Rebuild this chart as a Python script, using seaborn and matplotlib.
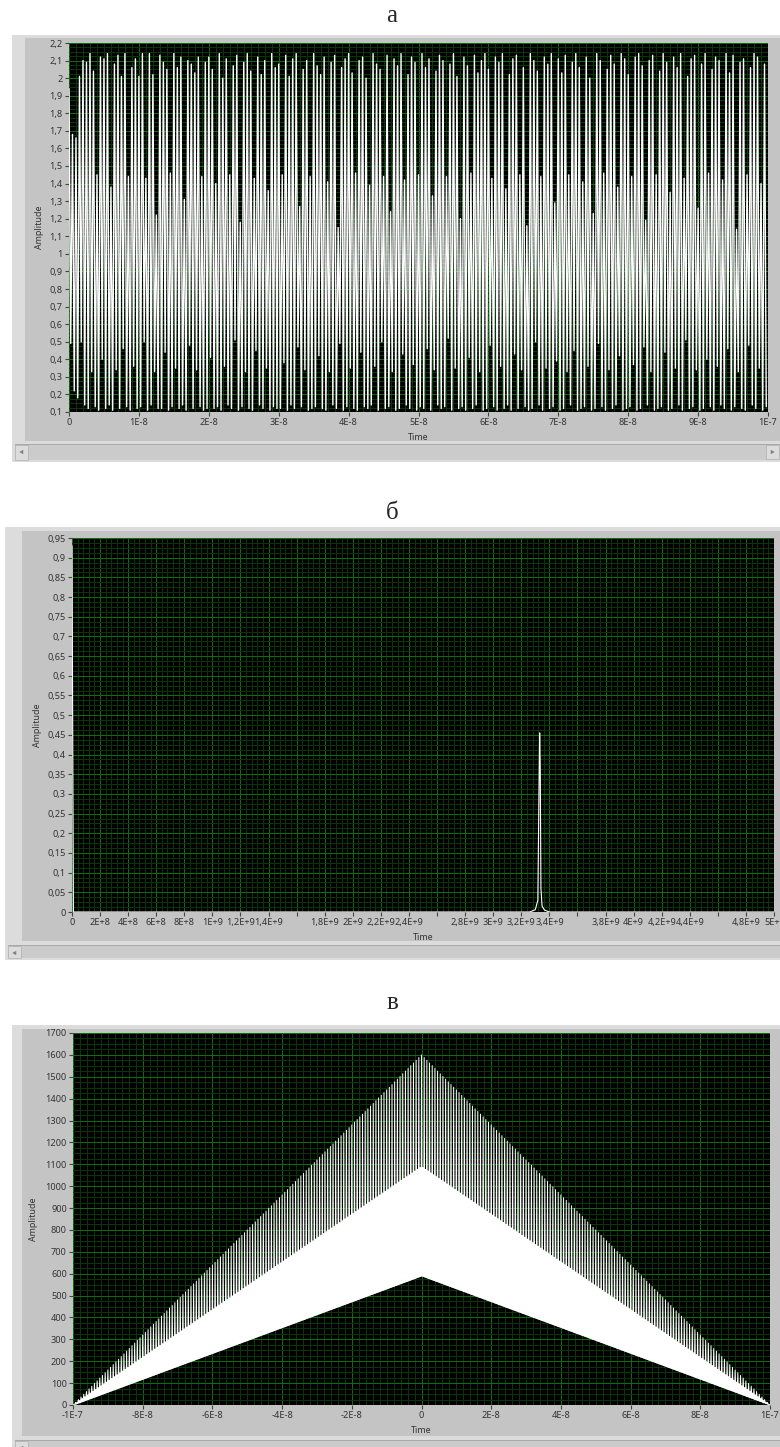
import numpy as np
import pandas as pd
import matplotlib
matplotlib.use("Agg")
import matplotlib.pyplot as plt
from matplotlib.patches import Rectangle, Polygon
from matplotlib.ticker import AutoMinorLocator
from matplotlib.transforms import ScaledTranslation
import seaborn as sns

# ---------------- data: panel а (time signal) ----------------
a_sample_step = 0.25e-9
a_high = [
    1.94, 1.68, 1.66, 2.01, 2.10, 2.09, 2.14, 2.04, 1.45, 2.12, 2.11, 2.14, 1.38, 2.08, 2.13, 2.01, 2.14, 1.44, 2.06, 2.11,
    2.01, 2.14, 1.43, 2.14, 2.02, 1.22, 2.13, 2.09, 2.05, 1.46, 2.14, 2.06, 2.12, 1.31, 2.10, 2.08, 2.03, 2.12, 1.44, 2.09,
    2.12, 2.05, 1.40, 2.14, 2.00, 2.11, 1.45, 2.07, 2.13, 1.18, 2.09, 2.14, 2.04, 1.43, 2.12, 2.02, 2.10, 1.36, 2.14, 2.06,
    2.08, 1.45, 2.13, 2.01, 2.11, 2.14, 1.27, 2.05, 2.10, 1.44, 2.14, 2.07, 2.02, 2.12, 1.41, 2.09, 2.13, 1.15, 2.06, 2.11,
    2.14, 2.03, 1.46, 2.10, 2.12, 2.00, 1.39, 2.14, 2.08, 2.05, 1.44, 2.13, 1.24, 2.11, 2.07, 2.14, 1.42, 2.02, 2.12, 2.09,
    1.45, 2.14, 2.06, 2.11, 1.33, 2.04, 2.13, 2.10, 1.44, 2.08, 2.14, 2.01, 1.20, 2.12, 2.07, 1.46, 2.13, 2.03, 2.10, 2.14,
    2.05, 1.43, 2.12, 2.09, 2.14, 1.37, 2.02, 2.11, 2.13, 1.45, 2.06, 1.16, 2.14, 2.10, 2.04, 1.44, 2.12, 2.08, 2.14, 1.29,
    2.11, 2.03, 2.13, 1.45, 2.09, 2.14, 2.06, 1.41, 2.12, 2.00, 1.23, 2.14, 2.10, 1.46, 2.05, 2.13, 2.08, 1.38, 2.14, 2.11,
    2.02, 1.44, 2.12, 2.14, 2.07, 1.19, 2.10, 2.13, 1.45, 2.04, 2.14, 2.09, 1.35, 2.12, 2.06, 2.14, 1.43, 2.01, 2.11, 2.13,
    1.26, 2.08, 2.14, 1.46, 2.05, 2.12, 2.10, 1.42, 2.14, 2.03, 2.13, 1.14, 2.09, 2.11, 1.45, 2.06, 2.14, 2.12, 1.40, 2.08,
]
a_low = [
    0.49, 0.22, 0.18, 0.50, 0.14, 0.12, 0.33, 0.13, 0.11, 0.40, 0.12, 0.14, 0.11, 0.34, 0.12, 0.46, 0.13, 0.11, 0.36, 0.12,
    0.13, 0.50, 0.11, 0.14, 0.33, 0.12, 0.12, 0.44, 0.11, 0.13, 0.35, 0.12, 0.14, 0.11, 0.48, 0.12, 0.34, 0.13, 0.11, 0.12,
    0.41, 0.12, 0.13, 0.11, 0.36, 0.14, 0.12, 0.51, 0.11, 0.13, 0.33, 0.12, 0.11, 0.45, 0.14, 0.12, 0.35, 0.11, 0.13, 0.12,
    0.12, 0.38, 0.11, 0.14, 0.12, 0.47, 0.13, 0.34, 0.11, 0.12, 0.13, 0.42, 0.12, 0.11, 0.33, 0.14, 0.12, 0.49, 0.11, 0.13,
    0.35, 0.12, 0.11, 0.44, 0.13, 0.12, 0.14, 0.36, 0.11, 0.50, 0.12, 0.13, 0.33, 0.11, 0.12, 0.43, 0.14, 0.12, 0.37, 0.11,
    0.13, 0.12, 0.46, 0.11, 0.34, 0.14, 0.12, 0.13, 0.52, 0.11, 0.35, 0.12, 0.13, 0.11, 0.41, 0.12, 0.14, 0.33, 0.11, 0.12,
    0.48, 0.13, 0.11, 0.36, 0.12, 0.14, 0.11, 0.43, 0.12, 0.34, 0.13, 0.11, 0.12, 0.50, 0.14, 0.11, 0.35, 0.12, 0.13, 0.39,
    0.11, 0.12, 0.33, 0.14, 0.45, 0.11, 0.12, 0.13, 0.36, 0.11, 0.12, 0.49, 0.13, 0.11, 0.34, 0.12, 0.14, 0.42, 0.11, 0.12,
    0.13, 0.37, 0.11, 0.12, 0.47, 0.14, 0.33, 0.11, 0.12, 0.13, 0.44, 0.11, 0.12, 0.35, 0.14, 0.11, 0.51, 0.12, 0.13, 0.34,
    0.11, 0.12, 0.40, 0.13, 0.11, 0.36, 0.14, 0.12, 0.46, 0.11, 0.13, 0.33, 0.12, 0.11, 0.48, 0.14, 0.12, 0.35, 0.11, 0.13,
]
a_yticks = [0.1, 0.2, 0.3, 0.4, 0.5, 0.6, 0.7, 0.8, 0.9, 1.0, 1.1, 1.2, 1.3, 1.4, 1.5, 1.6, 1.7, 1.8, 1.9, 2.0, 2.1, 2.2]
a_ylabels = ["0,1", "0,2", "0,3", "0,4", "0,5", "0,6", "0,7", "0,8", "0,9", "1", "1,1", "1,2", "1,3", "1,4",
             "1,5", "1,6", "1,7", "1,8", "1,9", "2", "2,1", "2,2"]
a_xticks = [0, 1e-8, 2e-8, 3e-8, 4e-8, 5e-8, 6e-8, 7e-8, 8e-8, 9e-8, 1e-7]
a_xlabels = ["0", "1E-8", "2E-8", "3E-8", "4E-8", "5E-8", "6E-8", "7E-8", "8E-8", "9E-8", "1E-7"]

# ---------------- data: panel б (spectrum) ----------------
b_freq = [0.0, 1.0e7, 3.26e9, 3.30e9, 3.318e9, 3.326e9, 3.331e9, 3.335e9, 3.340e9, 3.348e9, 3.365e9, 3.40e9, 5.0e9]
b_amp = [0.93, 0.0, 0.0, 0.006, 0.03, 0.30, 0.455, 0.37, 0.06, 0.015, 0.005, 0.0, 0.0]
b_yticks = [0, 0.05, 0.1, 0.15, 0.2, 0.25, 0.3, 0.35, 0.4, 0.45, 0.5, 0.55, 0.6, 0.65, 0.7, 0.75, 0.8, 0.85, 0.9, 0.95]
b_ylabels = ["0", "0,05", "0,1", "0,15", "0,2", "0,25", "0,3", "0,35", "0,4", "0,45", "0,5", "0,55", "0,6",
             "0,65", "0,7", "0,75", "0,8", "0,85", "0,9", "0,95"]
b_xticks = [0, 2e8, 4e8, 6e8, 8e8, 1e9, 1.2e9, 1.4e9, 1.6e9, 1.8e9, 2e9, 2.2e9, 2.4e9, 2.6e9, 2.8e9,
            3e9, 3.2e9, 3.4e9, 3.6e9, 3.8e9, 4e9, 4.2e9, 4.4e9, 4.6e9, 4.8e9, 5e9]
b_xlabels = ["0", "2E+8", "4E+8", "6E+8", "8E+8", "1E+9", "1,2E+9", "1,4E+9", "", "1,8E+9", "2E+9", "2,2E+9",
             "2,4E+9", "", "2,8E+9", "3E+9", "3,2E+9", "3,4E+9", "", "3,8E+9", "4E+9", "4,2E+9", "4,4E+9", "",
             "4,8E+9", "5E+"]

# ---------------- data: panel в (correlation) ----------------
c_lag_knots = [-1e-7, 0.0, 1e-7]
c_upper = [0, 1600, 0]
c_mid = [0, 1090, 0]
c_lower = [0, 590, 0]
c_n_samples = 1041
c_yticks = list(range(0, 1800, 100))
c_ylabels = [str(v) for v in c_yticks]
c_xticks = [-1e-7, -8e-8, -6e-8, -4e-8, -2e-8, 0, 2e-8, 4e-8, 6e-8, 8e-8, 1e-7]
c_xlabels = ["-1E-7", "-8E-8", "-6E-8", "-4E-8", "-2E-8", "0", "2E-8", "4E-8", "6E-8", "8E-8", "1E-7"]

# ---------------- build tables ----------------
a_vals = np.empty(2 * len(a_high))
a_vals[0::2] = a_high
a_vals[1::2] = a_low
df_a = pd.DataFrame({"Time": np.arange(len(a_vals)) * a_sample_step, "Amplitude": a_vals})
df_b = pd.DataFrame({"Time": b_freq, "Amplitude": b_amp})
c_t = np.linspace(c_lag_knots[0], c_lag_knots[-1], c_n_samples)
env = [np.interp(c_t, c_lag_knots, e) for e in (c_upper, c_lower, c_mid, c_lower)]
c_vals = np.array([env[i % 4][i] for i in range(c_n_samples)])
df_c = pd.DataFrame({"Time": c_t, "Amplitude": c_vals})

# ---------------- figure ----------------
W, H = 780, 1447
sns.set_theme(style="dark")
plt.rcParams['font.family'] = ['Noto Sans', 'DejaVu Sans']
fig = plt.figure(figsize=(W / 100, H / 100), dpi=100)
fig.patch.set_facecolor("white")


def rect(x0, y0, x1, y1, fc, ec="none", z=-5, lw=0):
    fig.add_artist(Rectangle((x0 / W, 1 - y1 / H), (x1 - x0) / W, (y1 - y0) / H,
                             transform=fig.transFigure, facecolor=fc, edgecolor=ec, lw=lw, zorder=z))


def tri(cx, cy, pointing_left=True):
    s = 2.2
    if pointing_left:
        pts = [(cx - s, cy), (cx + s * 0.8, cy - s), (cx + s * 0.8, cy + s)]
    else:
        pts = [(cx + s, cy), (cx - s * 0.8, cy - s), (cx - s * 0.8, cy + s)]
    fig.add_artist(Polygon([(x / W, 1 - y / H) for x, y in pts], closed=True,
                           transform=fig.transFigure, facecolor="#808080", edgecolor="none", zorder=-2))


def frame(x0, y0, y1, ix0, iy0, iy1, sy0, sy1):
    rect(x0, y0, W, y1, "#dcdcdc")
    rect(ix0, iy0, W, iy1, "#c4c4c4", z=-4)
    rect(x0 + 3, sy0, W, sy1, "#cbcbcb", z=-4)
    rect(x0 + 3, sy0, W, sy0 + 1.2, "#a9a9a9", z=-3)
    rect(x0 + 3, sy0 + 1, x0 + 16, sy1, "#dcdcdc", ec="#b0b0b0", lw=0.5, z=-3)
    tri(x0 + 9.5, sy0 + 8)


def add_axes(l, r, t, b):
    return fig.add_axes([l / W, 1 - b / H, (r - l) / W, (b - t) / H])


def style(ax, l, r, t, b, xlim, ylim, xt, xl, yt, yl, xminor, yminor, ylab_x):
    ax.set_facecolor("black")
    ax.set_xlim(*xlim)
    ax.set_ylim(*ylim)
    ax.set_xticks(xt)
    ax.set_xticklabels(xl)
    ax.set_yticks(yt)
    ax.set_yticklabels(yl)
    ax.xaxis.set_minor_locator(AutoMinorLocator(xminor))
    ax.yaxis.set_minor_locator(AutoMinorLocator(yminor))
    ax.grid(True, which="minor", color="#093509", lw=0.72)
    ax.grid(True, which="major", color="#0b6e0b", lw=0.72)
    ax.set_axisbelow(True)
    ax.tick_params(which="major", direction="out", length=3, width=0.8, color="#444444",
                   labelsize=6.6, labelcolor="#333333", pad=1.5, bottom=True, left=True)
    ax.tick_params(which="minor", length=0, bottom=False, left=False)
    for s in ax.spines.values():
        s.set_visible(False)
    ax.set_ylabel("Amplitude", fontsize=6.4, color="#333333")
    ax.set_xlabel("Time", fontsize=6.4, color="#333333")
    ax.yaxis.set_label_coords((ylab_x - l) / (r - l), 0.5)
    ax.xaxis.set_label_coords(0.5, -(21.0 / (b - t)))


# panel а
fig.text(392 / W, 1 - 16 / H, "а", fontsize=18, ha="center", va="center", family=["Liberation Serif"])
frame(12, 35, 462, 25, 38, 441, 444, 460)
rect(766, 445, 779, 459, "#dcdcdc", ec="#b0b0b0", lw=0.5, z=-3)
tri(772.5, 452, pointing_left=False)
ax_a = add_axes(69, 768, 43, 412)
sns.lineplot(data=df_a, x="Time", y="Amplitude", ax=ax_a, color="white", lw=1.0,
             sort=False, estimator=None)
style(ax_a, 69, 768, 43, 412, (0, 1e-7), (0.1, 2.2), a_xticks, a_xlabels, a_yticks, a_ylabels,
      10, 4, 44)

# panel б
fig.text(392 / W, 1 - 513 / H, "б", fontsize=18, ha="center", va="center", family=["Liberation Serif"])
frame(5, 527, 960, 22, 531, 941, 945, 958)
ax_b = add_axes(72, 774, 538, 912)
sns.lineplot(data=df_b, x="Time", y="Amplitude", ax=ax_b, color="white", lw=0.8,
             sort=False, estimator=None)
style(ax_b, 72, 774, 538, 912, (0, 5e9), (0, 0.95), b_xticks, b_xlabels, b_yticks, b_ylabels,
      5, 4, 42)
last = ax_b.get_xticklabels()[-1]
last.set_horizontalalignment("right")
last.set_transform(last.get_transform() + ScaledTranslation(5.5 / 100, 0, fig.dpi_scale_trans))

# panel в
fig.text(392 / W, 1 - 1003 / H, "в", fontsize=18, ha="center", va="center", family=["Liberation Serif"])
frame(12, 1025, 1447, 22, 1029, 1436, 1440, 1456)
ax_c = add_axes(73, 770, 1033, 1405)
ax_c.fill_between(c_lag_knots, c_lower, c_mid, color="white", lw=0, zorder=2)
sns.lineplot(data=df_c, x="Time", y="Amplitude", ax=ax_c, color="white", lw=0.7,
             sort=False, estimator=None)
style(ax_c, 73, 770, 1033, 1405, (-1e-7, 1e-7), (0, 1700), c_xticks, c_xlabels, c_yticks, c_ylabels,
      10, 4, 38)

fig.savefig("out.png", dpi=100, facecolor="white")
